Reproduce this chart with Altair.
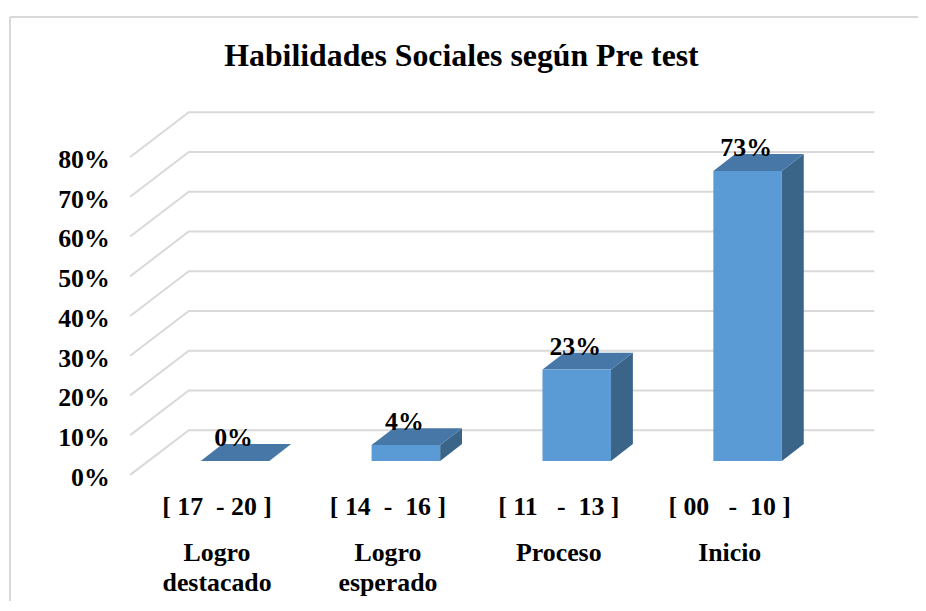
import altair as alt
import pandas as pd

# ---------------- data ----------------
NB = "\u00a0"
ranges = ["[ 17" + NB + " - 20 ]", "[ 14" + NB + " - " + NB + "16 ]",
          "[ 11" + NB + NB + " - " + NB + "13 ]", "[ 00" + NB + NB + " - " + NB + "10 ]"]
levels = ["Logro\ndestacado", "Logro\nesperado", "Proceso", "Inicio"]
values = [0, 4, 23, 73]
y_ticks = [0, 10, 20, 30, 40, 50, 60, 70, 80]
title_text = "Habilidades Sociales según Pre test"

# ---------------- styling / geometry constants ----------------
FONT = "Liberation Serif"
FRONT = "#5B9BD5"
TOP = "#4677A7"
SIDE = "#3B6588"
GRID = "#d9d9d9"

W, H = 916, 595
X_DOM = [-1.32849, 3.99709]   # category units (172 px each)
Y_DOM = [-31.75, 117.0]        # percent units (4 px each)

Z0 = 3.5        # bar front sits this far above the front floor edge
HW = 0.2006     # half bar width
BDX, BDY = 0.1279, 4.25      # bar depth
WALL_FL, WALL_BL, WALL_R = -0.6134, -0.2703, 3.7413
WALL_DY = 11.25
LABEL_SHIFT = -0.105
Y_LABEL_X = -0.7326

xs = alt.Scale(domain=X_DOM, nice=False, zero=False)
ys = alt.Scale(domain=Y_DOM, nice=False, zero=False)

# ---------------- derived tables ----------------
grid_rows = []
for L in y_ticks:
    grid_rows += [
        {"lvl": L, "o": 0, "u": WALL_FL, "y": L},
        {"lvl": L, "o": 1, "u": WALL_BL, "y": L + WALL_DY},
        {"lvl": L, "o": 2, "u": WALL_R, "y": L + WALL_DY},
    ]
grid_df = pd.DataFrame(grid_rows)

front_rows, side_rows, top_rows, lab_rows = [], [], [], []
for i, v in enumerate(values):
    top = Z0 + v
    front_rows.append({"u": i - HW, "u2": i + HW, "y": Z0, "y2": top})
    side_rows += [
        {"b": i, "u": i + HW, "y": Z0, "y2": top},
        {"b": i, "u": i + HW + BDX, "y": Z0 + BDY, "y2": top + BDY},
    ]
    top_rows += [
        {"b": i, "u": i - HW, "y": top, "y2": top},
        {"b": i, "u": i - HW + BDX, "y": top, "y2": top + BDY},
        {"b": i, "u": i + HW, "y": top, "y2": top + BDY},
        {"b": i, "u": i + HW + BDX, "y": top + BDY, "y2": top + BDY},
    ]
    lab_rows.append({"u": i, "y": top + BDY, "t": f"{v}%"})

front_df = pd.DataFrame(front_rows)
side_df = pd.DataFrame(side_rows)
top_df = pd.DataFrame(top_rows)
lab_df = pd.DataFrame(lab_rows)

ylab_df = pd.DataFrame({"u": [Y_LABEL_X] * len(y_ticks), "y": y_ticks,
                        "t": [f"{t}%" for t in y_ticks]})
cat_df = pd.DataFrame({"u": [i + LABEL_SHIFT for i in range(len(ranges))],
                       "r": ranges, "n": levels})
title_df = pd.DataFrame({"u": [1.3256], "y": [103.0], "t": [title_text]})


def X(f="u"):
    return alt.X(f"{f}:Q", scale=xs, axis=None)


def Y(f="y"):
    return alt.Y(f"{f}:Q", scale=ys, axis=None)


grid = alt.Chart(grid_df).mark_line(color=GRID, strokeWidth=2).encode(
    x=X(), y=Y(), detail="lvl:N", order="o:Q")

side = alt.Chart(side_df).mark_area(color=SIDE).encode(
    x=X(), y=Y(), y2="y2:Q", detail="b:N")

topf = alt.Chart(top_df).mark_area(color=TOP).encode(
    x=X(), y=Y(), y2="y2:Q", detail="b:N")

front = alt.Chart(front_df).mark_rect(color=FRONT).encode(
    x=X(), x2="u2:Q", y=Y(), y2="y2:Q")

vlabels = alt.Chart(lab_df).mark_text(
    font=FONT, fontSize=26, fontWeight="bold", color="black",
    baseline="alphabetic", align="center", dy=2, dx=-1.5).encode(
    x=X(), y=Y(), text="t:N")

ylabels = alt.Chart(ylab_df).mark_text(
    font=FONT, fontSize=26, fontWeight="bold", color="black",
    baseline="alphabetic", align="right", dy=11).encode(
    x=X(), y=Y(), text="t:N")

cat1 = alt.Chart(cat_df).mark_text(
    font=FONT, fontSize=26, fontWeight="bold", color="black",
    baseline="alphabetic", align="center").encode(
    x=X(), y=alt.value(508), text="r:N")

cat2 = alt.Chart(cat_df).mark_text(
    font=FONT, fontSize=26, fontWeight="bold", color="black",
    baseline="alphabetic", align="center", lineBreak="\n", lineHeight=30).encode(
    x=X(), y=alt.value(555), text="n:N")

title = alt.Chart(title_df).mark_text(
    font=FONT, fontSize=32, fontWeight="bold", color="black",
    baseline="alphabetic", align="center").encode(
    x=X(), y=Y(), text="t:N")

border_top = alt.Chart(title_df).mark_rule(color=GRID, strokeWidth=2).encode(
    x=alt.value(2), x2=alt.value(W), y=alt.value(7))
border_left = alt.Chart(title_df).mark_rule(color=GRID, strokeWidth=2).encode(
    x=alt.value(2), y=alt.value(7), y2=alt.value(H))

chart = alt.layer(
    border_top, border_left, grid, side, topf, front,
    vlabels, ylabels, cat1, cat2, title
).properties(
    width=W, height=H,
    autosize=alt.AutoSizeParams(type="none"),
    padding=0,
).configure(background="white").configure_view(stroke=None)

chart.save("out.html", embed_options={"renderer": "svg", "actions": False})
